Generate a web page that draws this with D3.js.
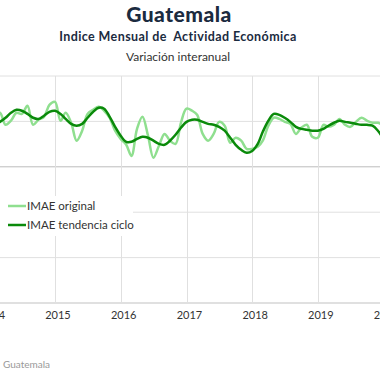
<!DOCTYPE html>
<html><head><meta charset="utf-8">
<script src="https://cdn.jsdelivr.net/npm/d3@7"></script>
<style>html,body{margin:0;padding:0;background:#fff;}svg{display:block;}</style>
</head><body>
<svg id="c" width="380" height="380"></svg>
<script>
const startYear = 2014, startMonth = 0;
const original = [2.03,2.25,2.38,1.85,2.03,2.38,2.33,2.69,1.85,2.07,2.20,2.73,
  2.86,2.03,2.38,1.94,1.15,1.59,2.33,2.51,2.64,2.47,2.16,1.59,
  1.23,0.97,0.48,1.67,2.20,1.37,0.40,0.93,1.45,1.15,1.01,1.94,
  2.56,2.47,2.29,1.45,1.15,1.45,1.98,1.81,1.06,1.28,1.15,0.79,
  0.79,0.88,1.15,1.81,2.16,2.11,1.98,1.89,1.45,1.72,1.85,1.32,
  1.28,1.85,1.76,1.85,2.11,1.85,1.76,1.98,2.16,2.03,1.94,1.94,
  1.81];
const trend = [1.85,1.89,1.98,2.16,2.38,2.51,2.47,2.33,2.16,2.11,2.25,2.42,
  2.47,2.33,2.11,1.89,1.81,1.89,2.16,2.42,2.60,2.56,2.20,1.76,
  1.37,1.10,1.10,1.23,1.32,1.28,1.15,1.01,0.97,1.15,1.41,1.72,
  1.98,2.07,2.07,1.98,1.89,1.85,1.76,1.59,1.28,0.97,0.75,0.62,
  0.70,1.01,1.54,2.03,2.33,2.29,2.16,1.98,1.76,1.67,1.63,1.59,
  1.59,1.67,1.81,1.94,2.03,1.98,1.94,1.89,1.85,1.85,1.81,1.59,
  1.23];
const yearTicks = [2014,2015,2016,2017,2018,2019,2020];
const yTicks = [-6,-4,-2,0,2,4];
const seriesNames = ["IMAE original","IMAE tendencia ciclo"];

const svg = d3.select("#c");
const font = "'Lato','Open Sans',sans-serif";
const dates = original.map((_, i) => new Date(startYear, startMonth + i, 1));

const x = d3.scaleTime().domain([new Date(2015,0,1), new Date(2020,0,1)]).range([55, 383.5]);
const y = d3.scaleLinear().domain([-6, 4]).range([303, 76]);

// titles
svg.append("text").attr("x",179).attr("y",22).attr("text-anchor","middle")
  .attr("font-family",font).attr("font-weight","900").attr("font-size",21)
  .attr("letter-spacing",0.5)
  .attr("fill","#1b2b3f").text("Guatemala");
svg.append("text").attr("x",178).attr("y",41).attr("text-anchor","middle")
  .attr("font-family",font).attr("font-weight","bold").attr("font-size",12.5)
  .attr("letter-spacing",0.4)
  .attr("fill","#1b2b3f").attr("xml:space","preserve").text("Indice Mensual de  Actividad Económica");
svg.append("text").attr("x",178).attr("y",61).attr("text-anchor","middle")
  .attr("font-family",font).attr("font-size",12)
  .attr("fill","#333").text("Variación interanual");

// grid
const g = svg.append("g");
g.selectAll(".hg").data(yTicks).join("line")
  .attr("x1",0).attr("x2",380).attr("y1",d=>y(d)).attr("y2",d=>y(d))
  .attr("stroke",d=>d===0?"#bdbdbd":"#e0e0e0").attr("stroke-width",d=>d===-6?2:1);
g.selectAll(".vg").data(yearTicks).join("line")
  .attr("x1",d=>Math.round(x(new Date(d,0,1)))+0.5).attr("x2",d=>Math.round(x(new Date(d,0,1)))+0.5)
  .attr("y1",y(4)).attr("y2",y(-6)).attr("stroke","#e0e0e0");

// x labels
svg.selectAll(".xl").data(yearTicks).join("text")
  .attr("x",d=>x(new Date(d,0,1))+3).attr("y",319).attr("text-anchor","middle")
  .attr("font-family",font).attr("font-size",11).attr("fill","#333").text(d=>d);

// lines
const line = d3.line().x((d,i)=>x(dates[i])).y(d=>y(d)).curve(d3.curveCatmullRom);
svg.append("path").attr("d",line(original)).attr("fill","none")
  .attr("stroke","#8fdf8f").attr("stroke-width",2.5);
svg.append("path").attr("d",line(trend)).attr("fill","none")
  .attr("stroke","#0a8a0a").attr("stroke-width",2.5);

// legend
const lg = svg.append("g");
lg.append("rect").attr("x",0).attr("y",196).attr("width",133).attr("height",40).attr("fill","#fff");
const colors = ["#8fdf8f","#0a8a0a"];
seriesNames.forEach((n,i)=>{
  const yy = 206 + i*19;
  lg.append("line").attr("x1",8).attr("x2",26).attr("y1",yy).attr("y2",yy)
    .attr("stroke",colors[i]).attr("stroke-width",2.5);
  lg.append("text").attr("x",27).attr("y",yy+4).attr("font-family",font)
    .attr("font-size",11.5).attr("fill","#333").text(n);
});

// source
svg.append("text").attr("x",3).attr("y",368).attr("font-family",font)
  .attr("font-size",10).attr("fill","#999").text("Guatemala");
</script>
</body></html>
